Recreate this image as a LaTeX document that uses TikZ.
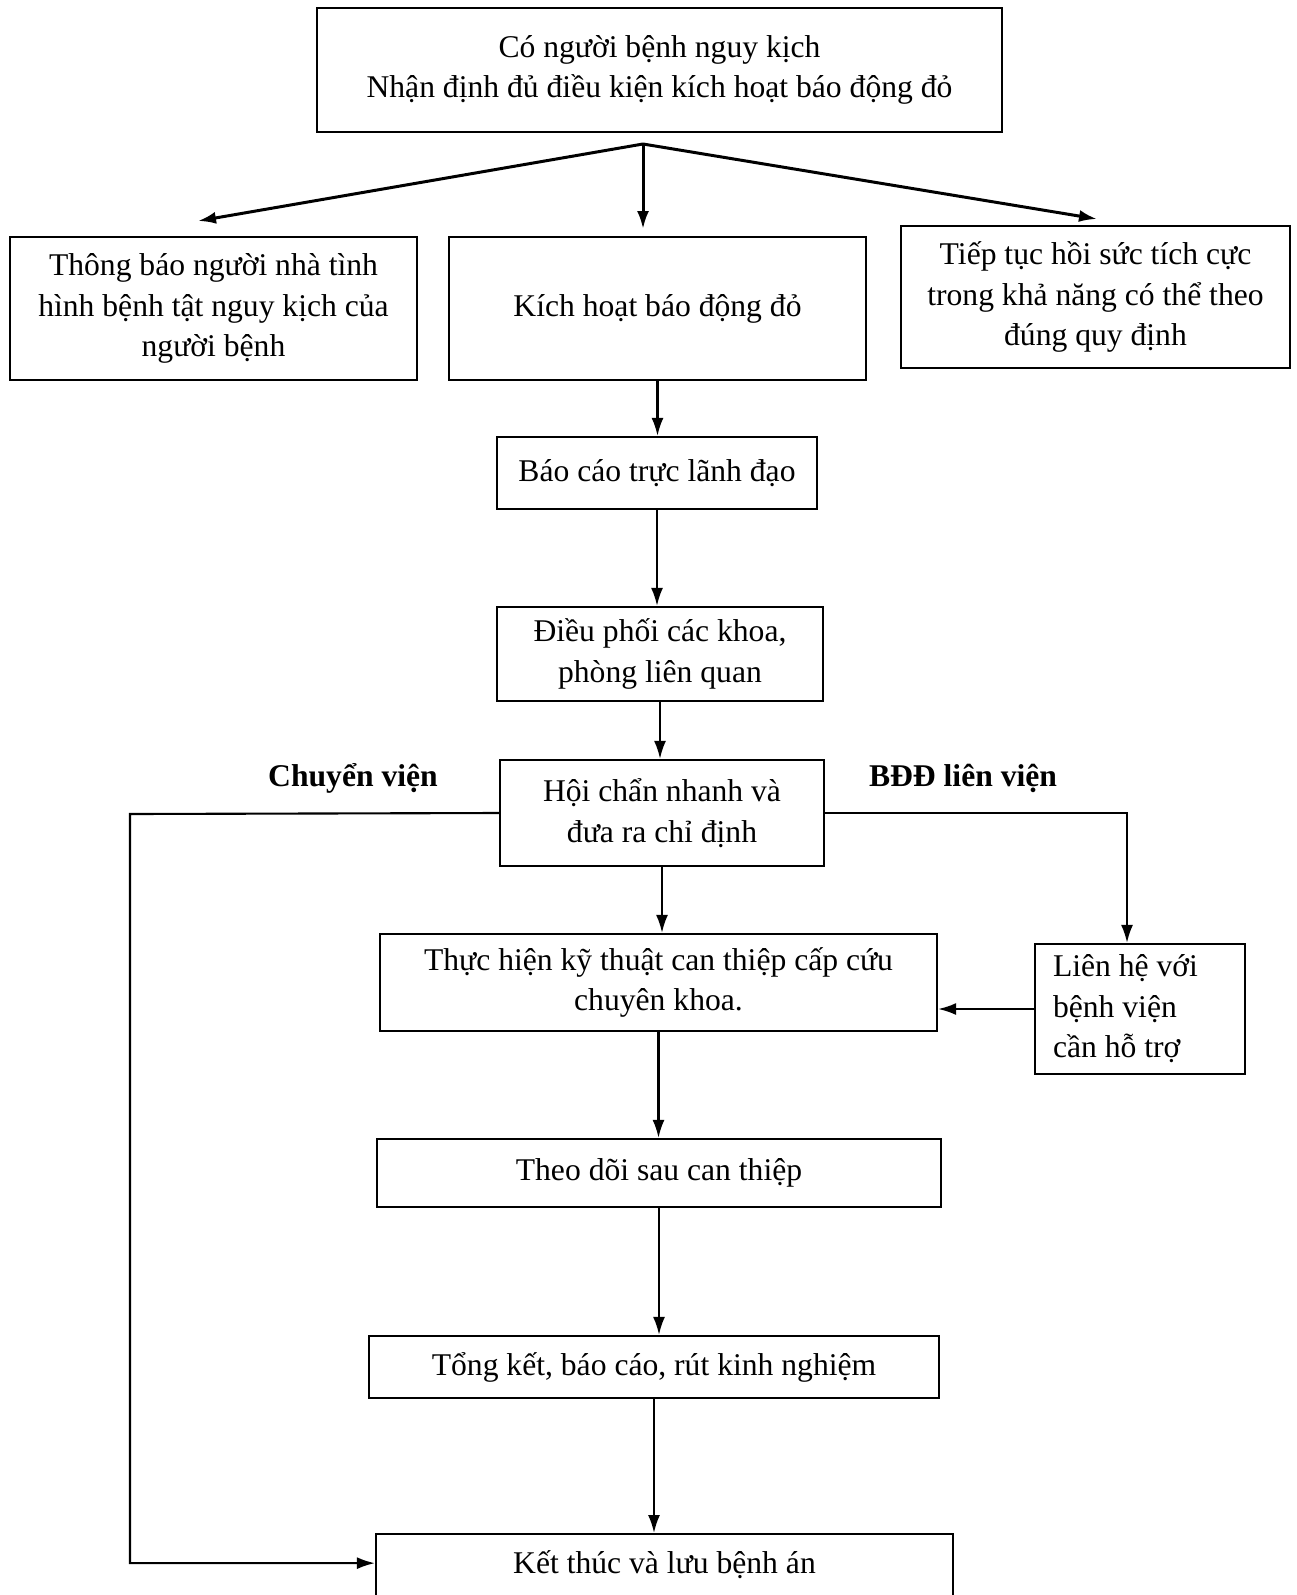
\documentclass[tikz,border=0pt]{standalone}
\usepackage{fontspec}
\setmainfont{Liberation Serif}
\usetikzlibrary{arrows.meta}
\begin{document}
\begin{tikzpicture}
		[
		x=0.02cm, y=-0.02cm, font=\fontsize{18}{23}\selectfont, >={Latex[length=0.36cm, width=0.24cm]},
		%Voreinstellung fuer Kaesten und Pfeile
		hop/.style={draw, line width=1.3pt, align=center, inner sep=0pt},
		muiten/.style={->, line width=1.2pt}
		]
		
		%Rahmen des Bildes
		\useasboundingbox (0,0) rectangle (1296,1595);
		
		%oberster Kasten
		\node[hop, line width=1.6pt, minimum width=13.7cm, minimum height=2.48cm] (batdau) at (659.5,70) {C\'o người bệnh nguy kịch\\Nhận định đủ điều kiện k\'ich hoạt b\'ao động đỏ};
		
		%drei Kaesten darunter
		\node[hop, minimum width=8.14cm, minimum height=2.86cm] (thongbao) at (213.5,308.5) {Th\^ong b\'ao người nh\`a t\`inh\\h\`inh bệnh tật nguy kịch của\\người bệnh};
		\node[hop, minimum width=8.34cm, minimum height=2.86cm] (kichhoat) at (657.5,308.5) {K\'ich hoạt b\'ao động đỏ};
		\node[hop, minimum width=7.78cm, minimum height=2.84cm] (tieptuc) at (1095.5,297) {Tiếp tục hồi sức t\'ich cực\\trong khả năng c\'o thể theo\\đ\'ung quy định};
		
		%Verzweigung oben
		\coordinate (tach) at (643,144);
		\coordinate (dautrai) at (198,221);
		\coordinate (daugiua) at (643,229);
		\coordinate (dauphai) at (1097,219);
		\draw[muiten, line width=1.7pt] (tach) -- (dautrai);
		\draw[muiten, line width=1.7pt] (tach) -- (daugiua);
		\draw[muiten, line width=1.7pt] (tach) -- (dauphai);
		
		%Kette in der Mitte
		\node[hop, minimum width=6.4cm, minimum height=1.44cm] (baocao) at (657,473) {B\'ao c\'ao trực l\~anh đạo};
		\node[hop, minimum width=6.52cm, minimum height=1.88cm] (dieuphoi) at (660,654) {Điều phối c\'ac khoa,\\ph\`ong li\^en quan};
		\node[hop, minimum width=6.48cm, minimum height=2.12cm] (hoichan) at (662,813) {Hội chẩn nhanh v\`a\\đưa ra chỉ định};
		\node[hop, minimum width=11.14cm, minimum height=1.94cm] (thuchien) at (658.5,982.5) {Thực hiện kỹ thuật can thiệp cấp cứu\\chuy\^en khoa.};
		\node[hop, minimum width=4.2cm, minimum height=2.6cm, text width=3.48cm, align=flush left] (lienhe) at (1140,1009) {Li\^en hệ với\\bệnh viện\\cần hỗ trợ};
		\node[hop, minimum width=11.28cm, minimum height=1.36cm] (theodoi) at (659,1173) {Theo d\~oi sau can thiệp};
		\node[hop, minimum width=11.4cm, minimum height=1.24cm] (tongket) at (654,1367) {Tổng kết, b\'ao c\'ao, r\'ut kinh nghiệm};
		\node[hop, anchor=north, minimum width=11.54cm, minimum height=1.8cm, text depth=0.7cm] (ketthuc) at (664.5,1533) {Kết th\'uc v\`a lưu bệnh \'an};
		
		%Beschriftung der Zweige
		\node[font=\fontsize{18}{23}\selectfont\bfseries] (chuyenvien) at (353,778) {Chuyển viện};
		\node[font=\fontsize{18}{23}\selectfont\bfseries] (lienvien) at (963,778) {BĐĐ li\^en viện};
		
		%senkrechte Pfeile
		\draw[muiten] (kichhoat.south) -- (kichhoat.south |- baocao.north);
		\draw[muiten] (baocao.south) -- (baocao.south |- dieuphoi.north);
		\draw[muiten] (dieuphoi.south) -- (dieuphoi.south |- hoichan.north);
		\draw[muiten] (hoichan.south) -- (hoichan.south |- thuchien.north);
		\draw[muiten] (thuchien.south) -- (thuchien.south |- theodoi.north);
		\draw[muiten] (theodoi.south) -- (theodoi.south |- tongket.north);
		\draw[muiten] (tongket.south) -- (tongket.south |- ketthuc.north);
		
		%Zweig links
		\coordinate (goctrai) at (130,814);
		\draw[muiten] (hoichan.west) -- (goctrai) |- ([yshift=0.32cm]ketthuc.west);
		
		%Zweig rechts
		\draw[muiten] (hoichan.east) -| ([xshift=-0.26cm]lienhe.north);
		\draw[muiten] (lienhe.west) -- (lienhe.west -| thuchien.east);
		
	\end{tikzpicture}
\end{document}
